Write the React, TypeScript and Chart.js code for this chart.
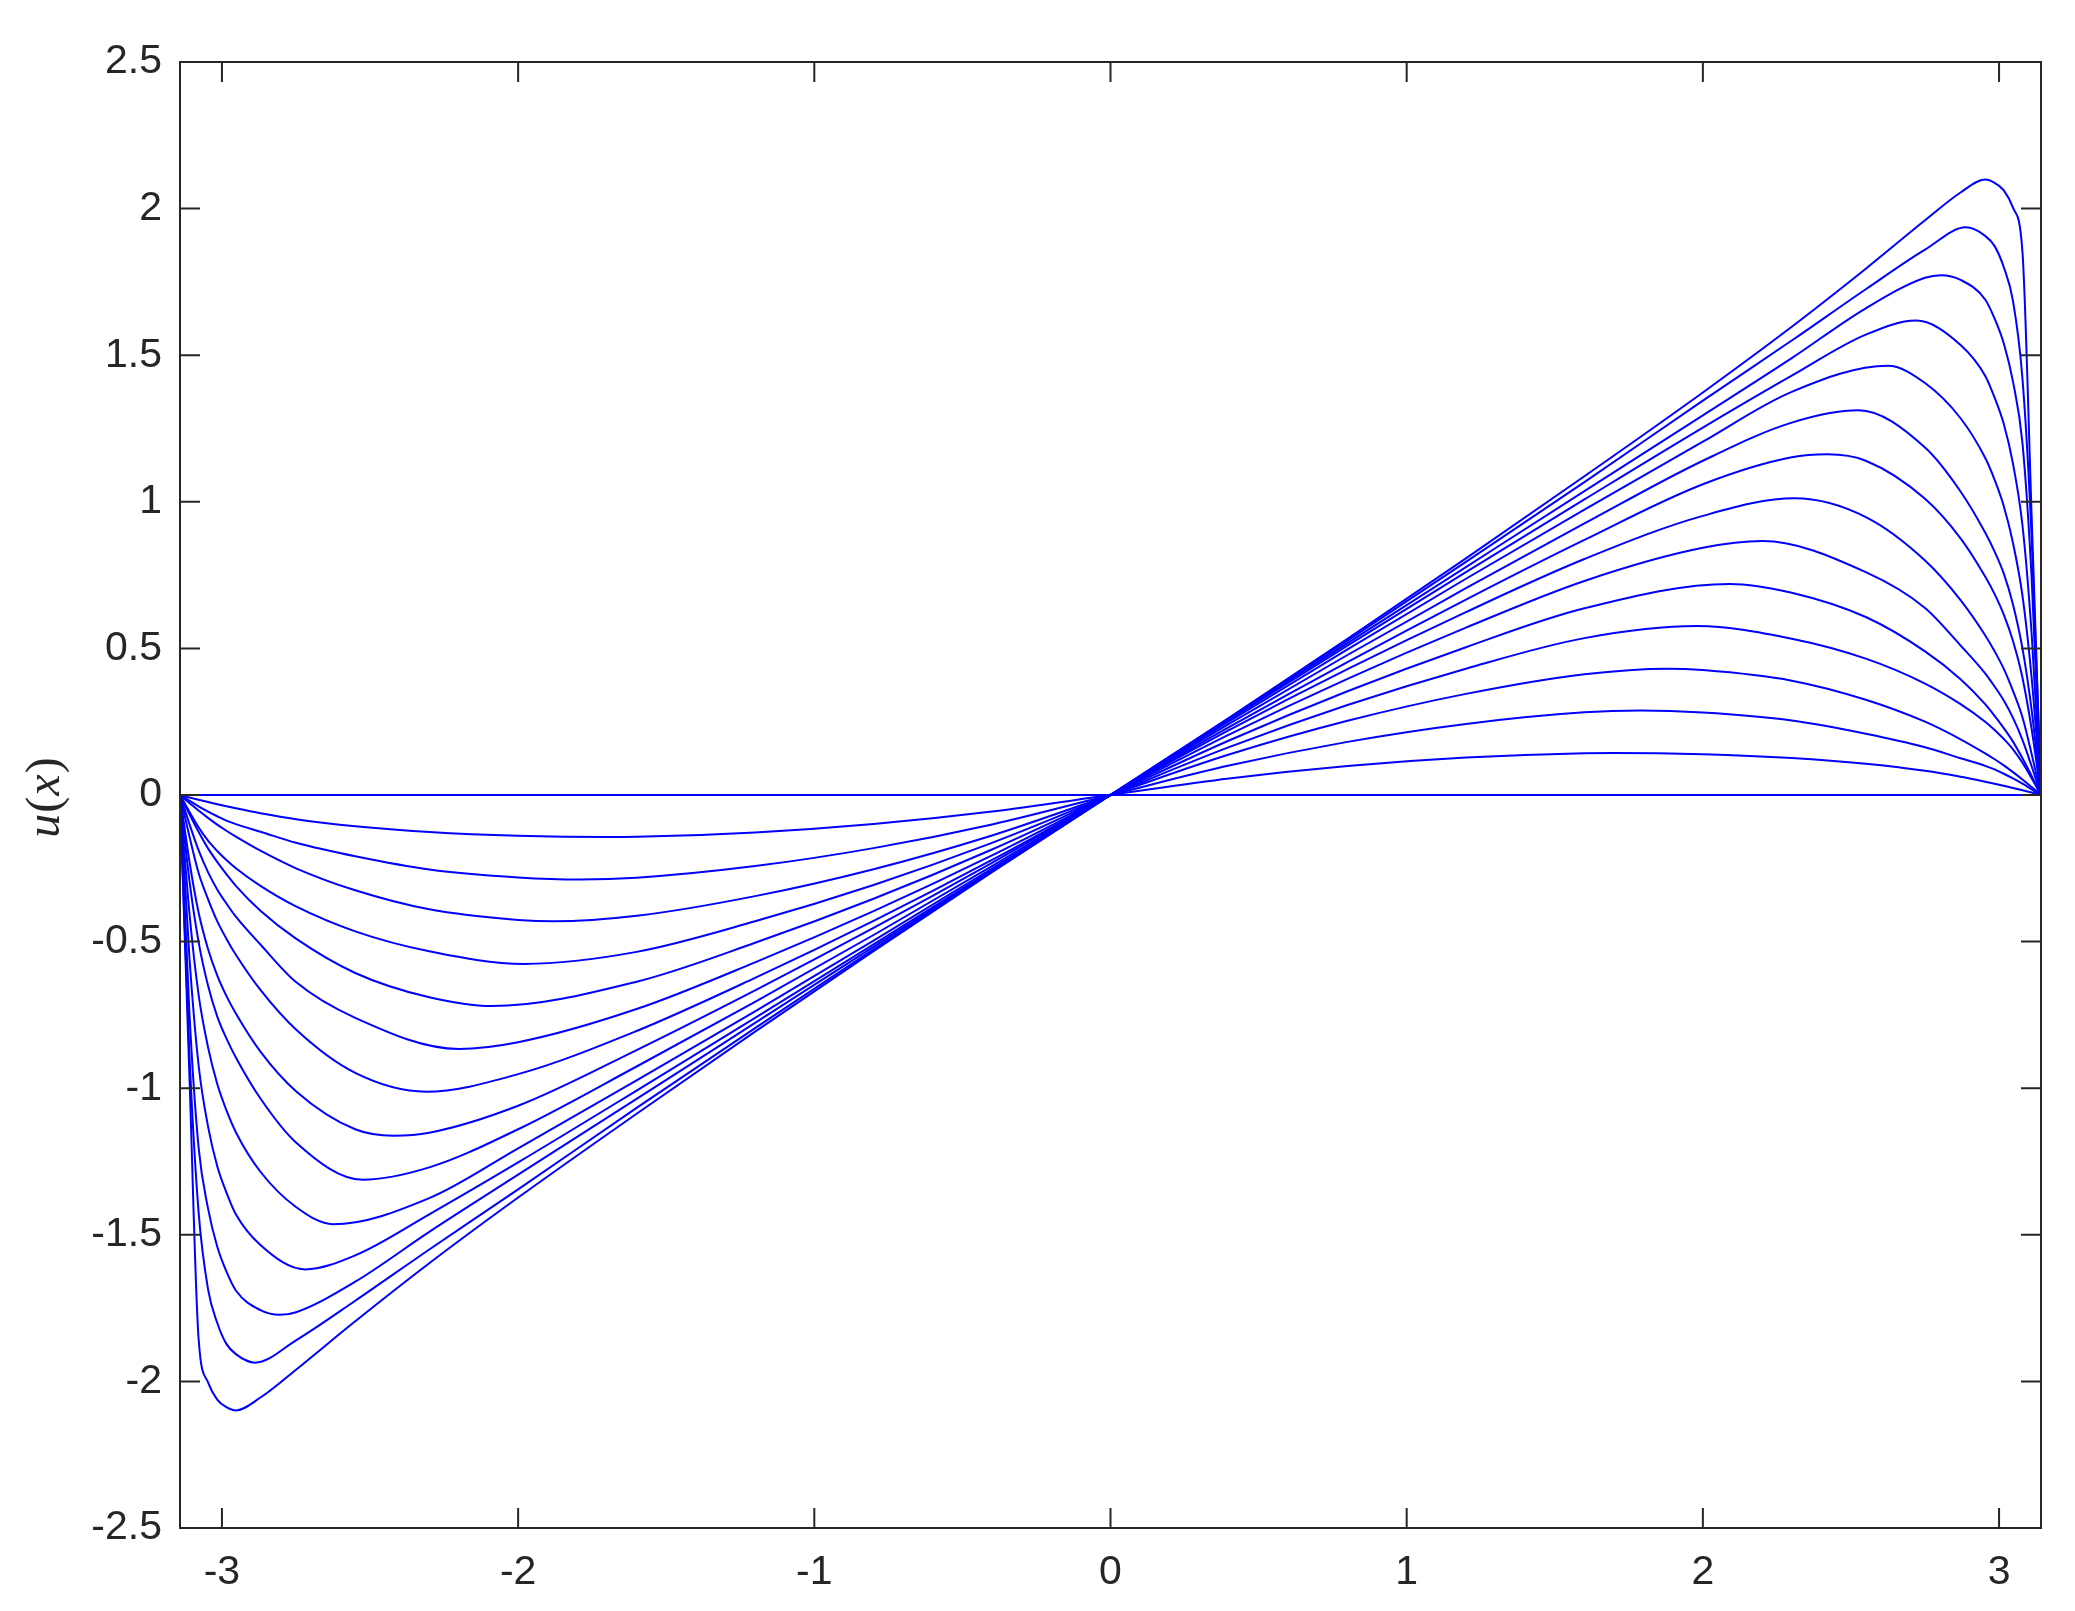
import React, { useEffect, useRef } from 'react';
import { Chart, registerables } from 'chart.js';

Chart.register(...registerables);

// x positions of the right half (the family is odd-symmetric about the origin)
const xPos = [0, 0.4, 0.8, 1.2, 1.6, 2.0, 2.3, 2.55, 2.75, 2.87, 2.953, 2.985, 3.016, 3.047, 3.079, 3.110, 3.1416];

// values read at xPos (null = grid point too close to the curve's peak, which is given below)
const u0 = [0, 0, 0, 0, 0, 0, 0, 0, 0, 0, 0, 0, 0, 0, 0, 0, 0];
const u1 = [0, 0.0562, 0.0987, 0.1276, 0.1428, 0.139, 0.126, 0.1065, 0.0824, 0.0621, 0.0455, 0.0386, 0.0315, 0.0242, 0.0163, 0.0084, 0];
const u2 = [0, 0.1004, 0.1812, 0.2424, 0.282, 0.281, 0.254, 0.209, 0.163, 0.1253, 0.0994, 0.0875, 0.0725, 0.0565, 0.0385, 0.0195, 0];
const u3 = [0, 0.1379, 0.253, 0.3449, 0.412, 0.426, 0.390, 0.325, 0.250, 0.190, 0.142, 0.122, 0.101, 0.078, 0.053, 0.027, 0];
const u4 = [0, 0.1632, 0.3068, 0.4307, 0.535, null, 0.533, 0.465, 0.380, 0.310, 0.250, 0.222, 0.191, 0.156, 0.110, 0.057, 0];
const u5 = [0, 0.1858, 0.3538, 0.5041, 0.6368, null, 0.690, 0.607, 0.490, 0.395, 0.310, 0.270, 0.228, 0.182, 0.125, 0.065, 0];
const u6 = [0, 0.2058, 0.396, 0.5706, 0.730, 0.843, null, 0.760, 0.638, 0.510, 0.415, 0.370, 0.322, 0.263, 0.188, 0.098, 0];
const u7 = [0, 0.2213, 0.4292, 0.6237, 0.8048, 0.952, null, 0.948, 0.800, 0.665, 0.545, 0.490, 0.430, 0.355, 0.265, 0.140, 0];
const u8 = [0, 0.2314, 0.4535, 0.6664, 0.870, 1.060, 1.152, 1.140, 1.010, 0.875, 0.745, 0.685, 0.615, 0.525, 0.400, 0.225, 0];
const u9 = [0, 0.2424, 0.4775, 0.7054, 0.926, 1.140, 1.270, null, 1.185, 1.035, 0.895, 0.830, 0.755, 0.650, 0.500, 0.290, 0];
const u10 = [0, 0.2507, 0.4966, 0.7376, 0.9736, 1.205, 1.375, null, 1.405, 1.285, 1.150, 1.075, 0.985, 0.860, 0.680, 0.400, 0];
const u11 = [0, 0.2559, 0.5092, 0.7599, 1.008, 1.253, 1.430, 1.570, null, 1.535, 1.430, 1.355, 1.265, 1.130, 0.920, 0.550, 0];
const u12 = [0, 0.259, 0.518, 0.7773, 1.0365, 1.295, 1.490, 1.660, 1.764, 1.757, 1.690, 1.625, 1.540, 1.410, 1.200, 0.740, 0];
const u13 = [0, 0.2617, 0.5268, 0.7953, 1.0672, 1.345, 1.550, 1.725, 1.860, null, 1.907, 1.872, 1.800, 1.685, 1.420, 0.880, 0];
const u14 = [0, 0.2636, 0.5326, 0.8072, 1.0872, 1.373, 1.597, 1.795, 1.960, 2.055, null, 2.088, 2.062, 2.003, 1.852, 0.950, 0];

// peak of each curve (x, value); curve 0 has none
const peakX = [null, 1.70, 1.79, 1.88, 1.98, 2.09, 2.20, 2.31, 2.42, 2.525, 2.625, 2.72, 2.805, 2.888, 2.953];
const peakY = [null, 0.1435, 0.288, 0.431, 0.576, 0.720, 0.866, 1.012, 1.162, 1.312, 1.464, 1.618, 1.773, 1.936, 2.099];

const curves = [u0, u1, u2, u3, u4, u5, u6, u7, u8, u9, u10, u11, u12, u13, u14];

const xTickVals = [-3, -2, -1, 0, 1, 2, 3];
const yTickVals = [-2.5, -2, -1.5, -1, -0.5, 0, 0.5, 1, 1.5, 2, 2.5];

const AXIS_COLOR = '#262626';
const LINE_COLOR = '#0000ff';

function buildPoints(idx: number) {
  const vals = curves[idx];
  const px = peakX[idx];
  const py = peakY[idx];
  const half: { x: number; y: number }[] = [];
  for (let i = 0; i < xPos.length; i++) {
    const v = vals[i];
    if (v === null || v === undefined) continue;
    half.push({ x: xPos[i], y: v as number });
  }
  if (px !== null) half.push({ x: px as number, y: py as number });
  half.sort((a, b) => a.x - b.x);
  const pts: { x: number; y: number }[] = [];
  for (let i = half.length - 1; i > 0; i--) pts.push({ x: -half[i].x, y: -half[i].y });
  for (let i = 0; i < half.length; i++) pts.push({ x: half[i].x, y: half[i].y });
  return pts;
}

const boxPlugin = {
  id: 'matlabBox',
  afterDatasetsDraw(chart: any) {
    const { ctx, chartArea, scales } = chart;
    const { left, right, top, bottom } = chartArea;
    const xs = scales.x;
    const ys = scales.y;
    ctx.save();
    ctx.strokeStyle = AXIS_COLOR;
    ctx.lineWidth = 2;
    ctx.beginPath();
    ctx.rect(left, top, right - left, bottom - top);
    const tl = 20;
    for (const v of xTickVals) {
      const p = xs.getPixelForValue(v);
      ctx.moveTo(p, bottom);
      ctx.lineTo(p, bottom - tl);
      ctx.moveTo(p, top);
      ctx.lineTo(p, top + tl);
    }
    for (const v of yTickVals) {
      const p = ys.getPixelForValue(v);
      ctx.moveTo(left, p);
      ctx.lineTo(left + tl, p);
      ctx.moveTo(right, p);
      ctx.lineTo(right - tl, p);
    }
    ctx.stroke();

    // y-axis label u(x), rotated
    const size = 48;
    const parts: [string, string][] = [
      ['u', `italic ${size}px "Liberation Serif"`],
      ['(', `${size}px "Liberation Serif"`],
      ['x', `italic ${size}px "Liberation Serif"`],
      [')', `${size}px "Liberation Serif"`],
    ];
    let total = 0;
    const widths: number[] = [];
    for (const [t, f] of parts) {
      ctx.font = f;
      const w = ctx.measureText(t).width + 1;
      widths.push(w);
      total += w;
    }
    ctx.translate(59, 797);
    ctx.rotate(-Math.PI / 2);
    ctx.fillStyle = AXIS_COLOR;
    ctx.textBaseline = 'alphabetic';
    ctx.textAlign = 'left';
    let cx = -total / 2;
    parts.forEach(([t, f], i) => {
      ctx.font = f;
      ctx.fillText(t, cx, 0);
      cx += widths[i];
    });
    ctx.restore();
  },
};

export default function App() {
  const ref = useRef<HTMLCanvasElement | null>(null);

  useEffect(() => {
    if (!ref.current) return;
    const datasets = curves.map((_, i) => ({
      label: `u${i}`,
      data: buildPoints(i),
      borderColor: LINE_COLOR,
      backgroundColor: LINE_COLOR,
      borderWidth: 2,
      pointRadius: 0,
      fill: false,
      cubicInterpolationMode: 'monotone' as const,
    }));
    const tickFont = { family: '"Liberation Sans", Arial, sans-serif', size: 41 };
    const chart = new Chart(ref.current, {
      type: 'line',
      data: { datasets },
      plugins: [boxPlugin],
      options: {
        animation: false,
        responsive: false,
        maintainAspectRatio: false,
        layout: { padding: { left: 0, top: 62, right: 34, bottom: 0 } },
        plugins: { legend: { display: false }, tooltip: { enabled: false } },
        scales: {
          x: {
            type: 'linear',
            min: -Math.PI,
            max: Math.PI,
            grid: { display: false, drawTicks: false },
            border: { display: false },
            ticks: {
              color: AXIS_COLOR,
              font: tickFont,
              padding: 20,
              autoSkip: false,
              maxRotation: 0,
              callback: (v: any) => String(v),
            },
            afterBuildTicks: (s: any) => {
              s.ticks = xTickVals.map((v) => ({ value: v }));
            },
            afterFit: (s: any) => {
              s.height = 83;
            },
          },
          y: {
            type: 'linear',
            min: -2.5,
            max: 2.5,
            grid: { display: false, drawTicks: false },
            border: { display: false },
            ticks: {
              color: AXIS_COLOR,
              font: tickFont,
              padding: 18,
              autoSkip: false,
              callback: (v: any) => String(v),
            },
            afterBuildTicks: (s: any) => {
              s.ticks = yTickVals.map((v) => ({ value: v }));
            },
            afterFit: (s: any) => {
              s.width = 180;
            },
          },
        },
      },
    });
    return () => chart.destroy();
  }, []);

  return (
    <div style={{ position: 'absolute', left: 0, top: 0, width: 2075, height: 1611, background: '#fff' }}>
      <canvas ref={ref} width={2075} height={1611} style={{ display: 'block', width: 2075, height: 1611 }} />
    </div>
  );
}
